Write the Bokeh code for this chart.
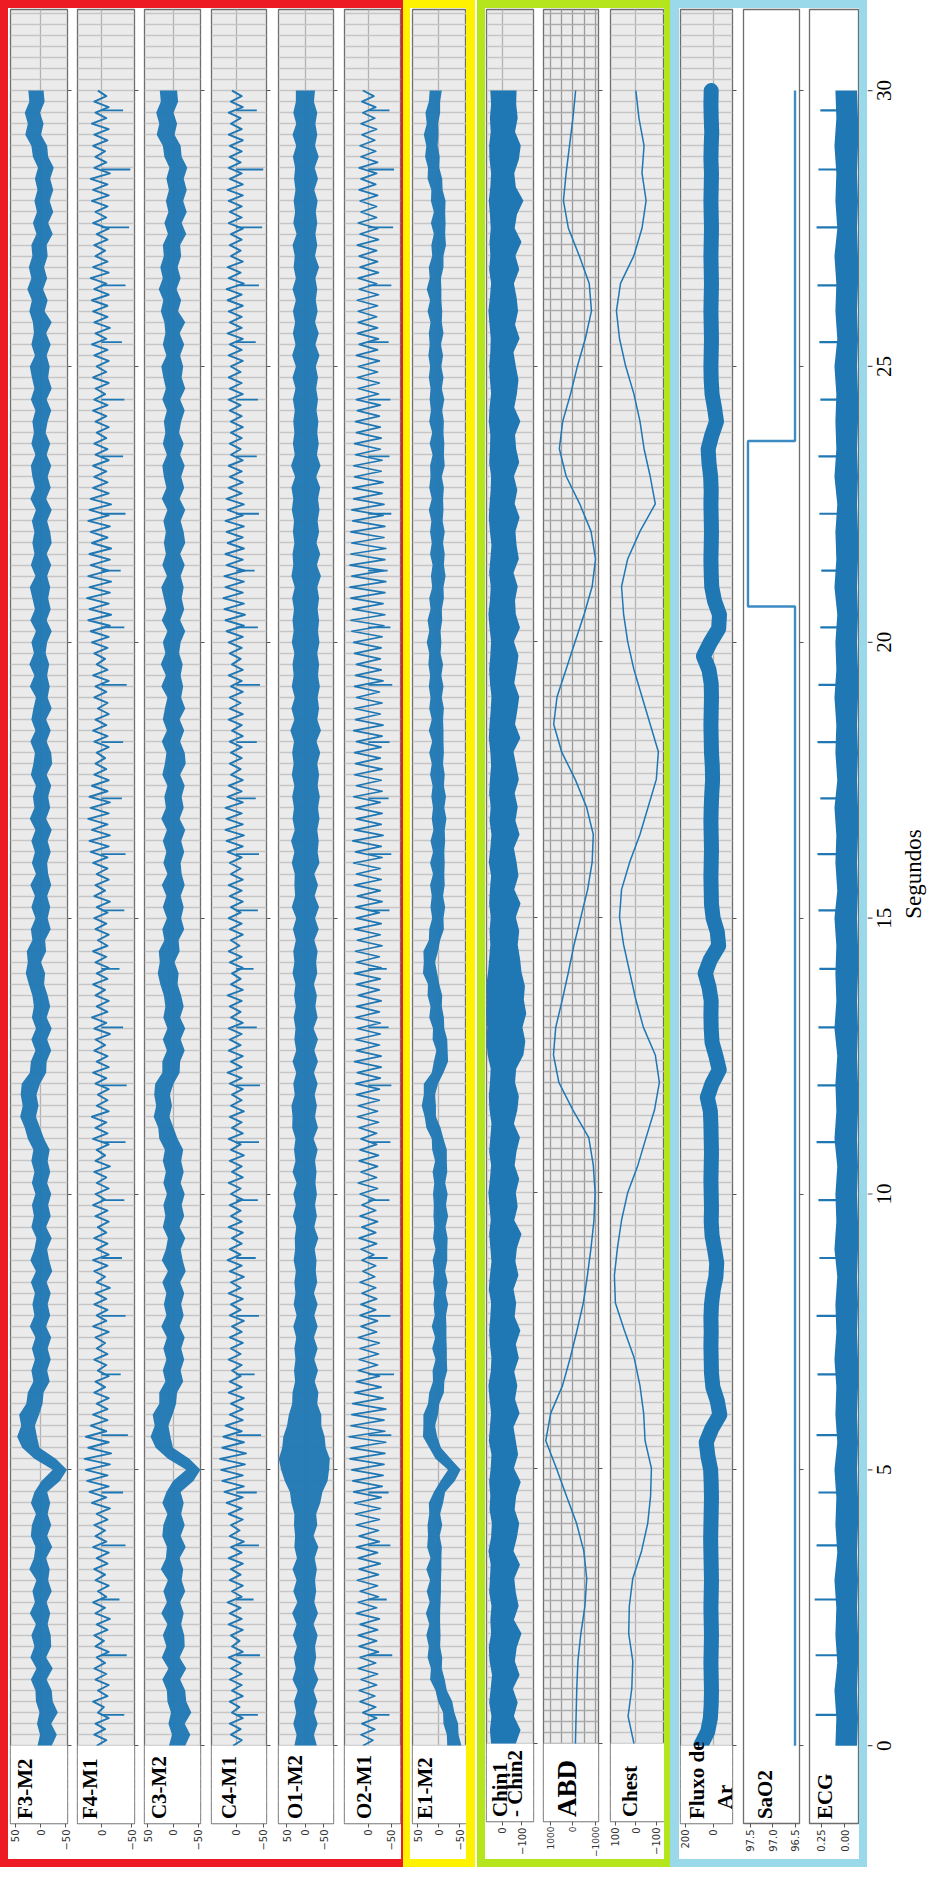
import math
import numpy as np
from bokeh.plotting import figure
from bokeh.layouts import row, column
from bokeh.models import (Range1d, FixedTicker, SingleIntervalTicker, BoxAnnotation,
                          Label, Spacer)
from bokeh.core.properties import value
from bokeh.embed import file_html
from bokeh.resources import INLINE

# ---------------------------------------------------------------- data
time_ticks = [0, 5, 10, 15, 20, 25, 30]
time_labels = ["0", "5", "10", "15", "20", "25", "30"]

# dense EEG channels: upper / lower edge of the trace band, read every 0.2 s
band_dt = 0.2
F3_hi = [6, 1, 7, 2, 9, 10, 19, 8, 20, 12,
         18, 9, 21, 11, 16, 8, 22, 13, 10, 19,
         17, 9, 19, 12, -2, -24, 12, 36, 46, 38,
         42, 28, 25, 14, 18, 11, 17, 10, 21, 12,
         16, 11, 19, 9, 20, 12, 8, 18, 13, 17,
         10, 17, 12, 18, 14, 25, 31, 40, 35, 39,
         37, 21, 19, 10, 18, 9, 17, 13, 16, 23,
         29, 25, 27, 16, 19, 10, 18, 11, 20, 9,
         17, 11, 18, 10, 21, 12, 15, 9, 19, 14,
         11, 20, 10, 18, 14, 9, 21, 12, 22, 13,
         18, 9, 20, 11, 16, 21, 10, 19, 12, 16,
         12, 17, 9, 20, 11, 16, 19, 10, 18, 13,
         16, 10, 19, 12, 17, 21, 11, 18, 13, 15,
         22, 17, 26, 18, 23, 16, 18, 8, 15, 7,
         12, 6, 11, 5, 15, 18, 30, 25, 31, 22,
         24]
F3_lo = [-22, -32, -21, -34, -24, -22, -12, -24, -11, -21,
         -20, -14, -19, -12, -22, -15, -18, -11, -23, -13,
         -21, -14, -19, -13, -38, -52, -30, 2, 7, 11,
         3, -4, -6, -18, -13, -20, -14, -21, -11, -19,
         -14, -20, -12, -23, -17, -13, -22, -11, -20, -15,
         -21, -13, -19, -14, -18, -7, 1, 9, 4, 8,
         1, -11, -12, -21, -13, -22, -12, -19, -14, -7,
         -9, -1, -11, -9, -20, -14, -19, -13, -21, -15,
         -13, -20, -14, -22, -11, -19, -15, -21, -12, -23,
         -21, -12, -20, -11, -22, -14, -18, -13, -17, -10,
         -13, -22, -12, -20, -15, -19, -13, -21, -12, -22,
         -19, -13, -22, -11, -20, -14, -21, -12, -19, -10,
         -14, -21, -12, -22, -15, -18, -12, -20, -11, -22,
         -8, -14, -5, -13, -7, -14, -12, -24, -15, -25,
         -18, -25, -19, -26, -15, -13, -1, -6, 1, -8,
         -6]
C3_hi = [8, 2, 9, 4, 11, 12, 21, 9, 22, 13,
         20, 11, 23, 12, 19, 10, 24, 14, 12, 21,
         19, 11, 21, 13, 0, -26, 10, 34, 44, 36,
         40, 27, 27, 15, 20, 13, 19, 12, 23, 13,
         18, 13, 21, 10, 22, 14, 10, 20, 15, 19,
         12, 19, 14, 20, 16, 27, 29, 38, 33, 37,
         35, 21, 21, 12, 20, 11, 19, 15, 18, 25,
         30, 26, 28, 17, 21, 12, 20, 13, 22, 11,
         19, 13, 20, 12, 23, 14, 17, 11, 21, 16,
         13, 22, 12, 20, 16, 11, 23, 14, 24, 15,
         20, 11, 22, 13, 18, 23, 12, 21, 14, 18,
         14, 19, 11, 22, 13, 18, 21, 12, 20, 15,
         18, 12, 21, 14, 19, 23, 13, 20, 15, 17,
         24, 19, 28, 20, 25, 18, 20, 10, 17, 9,
         14, 8, 13, 7, 17, 20, 32, 27, 33, 24,
         26]
C3_lo = [-24, -34, -23, -36, -26, -24, -14, -26, -13, -23,
         -22, -16, -21, -14, -24, -17, -20, -13, -25, -15,
         -23, -16, -21, -15, -40, -54, -32, 0, 5, 9,
         1, -6, -8, -20, -15, -22, -16, -23, -13, -21,
         -16, -22, -14, -25, -19, -15, -24, -13, -22, -17,
         -23, -15, -21, -16, -20, -9, -1, 7, 2, 6,
         -1, -13, -14, -23, -15, -24, -14, -21, -16, -9,
         -11, -3, -13, -11, -22, -16, -21, -15, -23, -17,
         -15, -22, -16, -24, -13, -21, -17, -23, -14, -25,
         -23, -14, -22, -13, -24, -16, -20, -15, -19, -12,
         -15, -24, -14, -22, -17, -21, -15, -23, -14, -24,
         -21, -15, -24, -13, -22, -16, -23, -14, -21, -12,
         -16, -23, -14, -24, -17, -20, -14, -22, -13, -24,
         -10, -16, -7, -15, -9, -16, -14, -26, -17, -27,
         -20, -27, -21, -28, -17, -15, -3, -8, -1, -10,
         -8]
O1_hi = [30, 24, 33, 25, 31, 21, 35, 26, 32, 23,
         34, 24, 36, 22, 33, 24, 35, 23, 30, 28,
         31, 30, 38, 42, 56, 66, 72, 63, 60, 50,
         45, 36, 35, 28, 31, 27, 30, 25, 33, 24,
         32, 27, 30, 26, 32, 28, 29, 25, 34, 26,
         33, 24, 35, 27, 31, 27, 36, 35, 38, 29,
         33, 25, 35, 25, 30, 27, 32, 26, 31, 27,
         35, 30, 33, 26, 34, 25, 37, 28, 30, 29,
         37, 30, 39, 29, 35, 31, 36, 30, 37, 32,
         36, 31, 41, 30, 38, 29, 37, 32, 35, 30,
         37, 32, 35, 31, 36, 29, 38, 33, 35, 30,
         34, 31, 37, 33, 38, 28, 39, 29, 34, 30,
         33, 29, 34, 27, 35, 26, 36, 27, 34, 28,
         34, 26, 35, 26, 32, 29, 35, 24, 33, 28,
         32, 27, 31, 28, 34, 25, 35, 25, 33, 26,
         26]
O1_lo = [-31, -23, -33, -23, -32, -22, -35, -23, -29, -26,
         -33, -22, -34, -24, -29, -26, -31, -25, -35, -22,
         -32, -29, -40, -46, -60, -64, -66, -55, -52, -43,
         -43, -32, -35, -25, -34, -24, -33, -23, -33, -24,
         -33, -23, -32, -28, -30, -25, -35, -24, -31, -26,
         -31, -27, -30, -26, -33, -22, -34, -26, -31, -25,
         -33, -23, -34, -24, -34, -22, -33, -27, -31, -23,
         -32, -29, -33, -24, -36, -26, -37, -25, -34, -24,
         -38, -33, -36, -32, -38, -34, -39, -33, -37, -32,
         -40, -30, -42, -32, -37, -33, -39, -34, -37, -32,
         -38, -34, -37, -33, -37, -32, -42, -31, -40, -30,
         -37, -33, -38, -34, -40, -29, -41, -31, -36, -32,
         -35, -30, -34, -29, -34, -28, -38, -27, -36, -26,
         -33, -28, -32, -27, -37, -26, -32, -27, -32, -28,
         -33, -24, -34, -25, -36, -26, -32, -27, -32, -23,
         -26]
E1_hi = [-20, -19, -11, -10, 2, 8, 21, 19, 27, 24,
         30, 23, 31, 22, 29, 21, 30, 20, 28, 26,
         27, 23, 24, 12, -4, -22, 8, 23, 38, 37,
         37, 26, 23, 14, 15, 8, 16, 9, 17, 10,
         13, 10, 14, 11, 15, 8, 14, 11, 13, 12,
         14, 11, 15, 9, 16, 17, 30, 34, 41, 36,
         36, 17, 12, 6, 15, 14, 23, 20, 27, 26,
         38, 36, 37, 24, 23, 16, 20, 17, 21, 14,
         21, 14, 20, 13, 17, 14, 18, 15, 21, 17,
         23, 16, 24, 17, 23, 20, 24, 21, 25, 23,
         29, 23, 27, 20, 23, 16, 19, 15, 21, 17,
         21, 18, 24, 17, 23, 20, 21, 15, 22, 16,
         23, 19, 22, 20, 24, 21, 25, 22, 24, 20,
         27, 21, 29, 22, 24, 16, 18, 12, 19, 12,
         19, 18, 27, 26, 33, 30, 36, 29, 32, 24,
         22]
E1_lo = [-54, -47, -46, -37, -32, -19, -14, -7, -8, -3,
         -4, -3, -3, -4, -5, -5, -6, -6, -7, -2,
         -8, -3, -10, -15, -38, -52, -28, -5, 4, 9,
         2, -1, -12, -13, -20, -19, -19, -18, -18, -17,
         -22, -16, -21, -15, -20, -20, -21, -16, -22, -17,
         -21, -15, -20, -19, -19, -11, -4, 7, 7, 9,
         2, -11, -22, -21, -20, -13, -12, -7, -8, -1,
         4, 9, 2, -3, -12, -11, -15, -10, -14, -13,
         -14, -13, -15, -14, -18, -13, -17, -12, -14, -10,
         -12, -11, -11, -10, -12, -7, -11, -6, -10, -4,
         -6, -4, -8, -7, -12, -11, -16, -12, -14, -10,
         -14, -9, -11, -10, -12, -7, -14, -12, -13, -11,
         -12, -8, -13, -7, -11, -6, -10, -5, -11, -7,
         -8, -6, -6, -5, -11, -11, -17, -15, -16, -15,
         -16, -9, -8, -1, -2, 3, 1, 2, -3, -3,
         -7]

# sparser EEG channels: trace read every 0.1 s
eeg_dt = 0.1
F4_M1 = [8, -8, 12, -6, 10, -12, 6, -4, 14, -10,
         6, -12, 10, -8, 12, -6, 8, -12, 10, -4,
         12, -10, 8, -14, 10, -6, 14, -8, 6, -12,
         10, -6, 12, -10, 8, -12, 14, -8, 10, -6,
         12, -10, 8, -14, 16, -8, 20, -12, 24, -10,
         26, -14, 28, -16, 22, -12, 26, -8, 18, -10,
         14, -10, 8, -12, 12, -6, 10, -12, 6, -8,
         12, -10, 8, -6, 10, -12, 14, -8, 8, -10,
         12, -8, 10, -14, 8, -6, 12, -10, 14, -12,
         8, -10, 12, -8, 6, -12, 10, -10, 14, -6,
         10, -12, 8, -8, 12, -14, 10, -6, 8, -12,
         14, -10, 10, -8, 16, -12, 8, -10, 6, -12,
         10, -8, 14, -12, 8, -10, 12, -6, 10, -14,
         12, -8, 16, -10, 8, -12, 10, -6, 14, -10,
         8, -12, 10, -8, 14, -10, 6, -12, 10, -8,
         12, -10, 8, -14, 12, -6, 10, -12, 8, -10,
         14, -10, 18, -12, 20, -14, 16, -10, 22, -12,
         18, -14, 20, -10, 16, -12, 12, -8, 10, -6,
         8, -12, 12, -10, 14, -8, 10, -12, 6, -10,
         12, -8, 10, -12, 14, -10, 8, -6, 12, -10,
         16, -12, 18, -14, 22, -16, 20, -12, 24, -14,
         20, -16, 22, -12, 18, -14, 20, -16, 16, -10,
         18, -14, 22, -12, 20, -16, 18, -12, 14, -10,
         12, -8, 14, -12, 10, -10, 12, -8, 8, -12,
         10, -8, 14, -10, 12, -6, 10, -12, 14, -8,
         8, -12, 12, -10, 16, -8, 10, -14, 12, -10,
         14, -10, 16, -12, 12, -8, 18, -12, 14, -10,
         10, -6, 12, -10, 8, -12, 14, -8, 10, -10,
         16, -12, 14, -10, 18, -14, 12, -8, 10, -6,
         14, -10, 12, -12, 16, -8, 10, -12, 12, -8,
         6]
C4_M1 = [6, -10, 10, -8, 12, -12, 8, -6, 12, -12,
         8, -10, 12, -10, 10, -8, 14, -12, 8, -6,
         10, -12, 14, -10, 12, -8, 16, -10, 8, -12,
         12, -8, 10, -12, 14, -10, 10, -14, 12, -6,
         10, -12, 14, -10, 18, -12, 22, -14, 26, -12,
         28, -16, 30, -18, 26, -14, 24, -10, 20, -12,
         12, -12, 10, -14, 14, -10, 12, -8, 8, -10,
         14, -8, 10, -12, 12, -10, 8, -14, 12, -8,
         10, -12, 14, -8, 10, -14, 12, -10, 16, -8,
         12, -10, 8, -12, 14, -10, 10, -8, 12, -12,
         10, -8, 14, -12, 8, -10, 12, -14, 10, -8,
         14, -12, 8, -10, 12, -14, 10, -10, 8, -12,
         12, -10, 16, -10, 10, -12, 14, -8, 12, -10,
         14, -12, 10, -8, 12, -10, 16, -12, 10, -8,
         8, -12, 12, -10, 14, -6, 10, -12, 12, -10,
         14, -8, 10, -12, 12, -10, 14, -12, 10, -8,
         12, -10, 16, -12, 18, -14, 20, -12, 18, -10,
         20, -12, 16, -10, 14, -12, 10, -8, 12, -10,
         10, -10, 12, -12, 8, -10, 14, -12, 12, -8,
         12, -12, 10, -10, 14, -12, 8, -8, 12, -10,
         14, -12, 18, -14, 20, -16, 22, -14, 24, -12,
         20, -14, 22, -16, 18, -12, 20, -14, 16, -12,
         18, -14, 20, -12, 16, -14, 18, -10, 14, -12,
         12, -10, 14, -12, 10, -8, 12, -10, 10, -12,
         10, -10, 12, -8, 14, -12, 12, -10, 14, -8,
         10, -12, 14, -10, 12, -12, 16, -10, 12, -10,
         14, -12, 16, -10, 18, -14, 14, -8, 16, -12,
         10, -8, 12, -10, 10, -12, 14, -10, 12, -10,
         14, -12, 16, -12, 12, -10, 14, -8, 12, -10,
         12, -12, 14, -10, 10, -8, 14, -12, 10, -10,
         8]
O2_M1 = [12, -10, 16, -14, 14, -18, 12, -16, 18, -14,
         20, -18, 16, -20, 22, -16, 18, -22, 20, -18,
         22, -20, 18, -24, 26, -18, 22, -22, 18, -20,
         24, -22, 20, -26, 22, -20, 26, -24, 20, -22,
         26, -24, 28, -26, 30, -28, 32, -30, 34, -32,
         36, -34, 40, -36, 38, -38, 42, -36, 38, -34,
         36, -38, 34, -32, 30, -28, 26, -24, 22, -20,
         20, -22, 18, -24, 22, -18, 16, -20, 18, -16,
         16, -18, 14, -16, 18, -14, 12, -16, 14, -12,
         16, -18, 20, -16, 14, -20, 18, -16, 14, -14,
         18, -20, 22, -18, 16, -20, 20, -22, 18, -18,
         16, -18, 20, -22, 24, -20, 22, -24, 26, -24,
         28, -26, 24, -28, 30, -28, 26, -24, 28, -26,
         24, -26, 28, -24, 26, -28, 22, -24, 26, -26,
         30, -28, 26, -24, 28, -30, 24, -26, 30, -28,
         26, -24, 28, -30, 24, -26, 30, -28, 26, -26,
         32, -30, 28, -28, 34, -32, 30, -28, 26, -30,
         28, -26, 32, -30, 26, -28, 30, -30, 28, -26,
         30, -28, 26, -30, 32, -32, 28, -26, 30, -30,
         26, -24, 30, -32, 28, -28, 26, -26, 30, -28,
         32, -30, 36, -34, 38, -36, 34, -32, 38, -36,
         40, -38, 36, -34, 40, -36, 38, -38, 36, -34,
         38, -36, 34, -32, 36, -34, 32, -30, 34, -32,
         30, -28, 32, -30, 28, -26, 30, -28, 26, -26,
         28, -24, 24, -26, 26, -22, 22, -24, 24, -20,
         22, -24, 26, -20, 20, -22, 24, -20, 22, -18,
         22, -20, 24, -22, 20, -18, 22, -22, 18, -20,
         20, -18, 24, -22, 18, -20, 22, -18, 16, -18,
         18, -20, 20, -16, 16, -18, 20, -20, 16, -16,
         18, -14, 14, -18, 16, -14, 12, -16, 14, -12,
         12]

# cardiac beats (R peaks) seen in ECG and as artefact in F4, C4, O2
ecg_r_times = [0.56, 1.64, 2.65, 3.63, 4.59, 5.63, 6.73, 7.79, 8.84, 9.89,
               10.94, 11.97, 13.02, 14.08, 15.14, 16.16, 17.17, 18.19, 19.23, 20.27,
               21.30, 22.33, 23.37, 24.40, 25.44, 26.47, 27.52, 28.57, 29.64]
ecg_r_peak = [0.31, 0.31, 0.32, 0.30, 0.28, 0.30, 0.29, 0.30, 0.27, 0.28,
              0.30, 0.29, 0.28, 0.27, 0.28, 0.29, 0.26, 0.29, 0.28, 0.26,
              0.25, 0.27, 0.28, 0.26, 0.27, 0.29, 0.30, 0.28, 0.26]
f4_spike = [-38, -42, -30, -40, -36, -44, -32, -40, -34, -38, -40, -42, -36, -30, -38,
            -40, -34, -36, -42, -38, -32, -40, -36, -38, -34, -40, -46, -48, -36]
c4_spike = [-40, -44, -32, -42, -38, -46, -34, -42, -36, -40, -42, -44, -38, -32, -40,
            -42, -36, -38, -44, -40, -34, -42, -38, -40, -36, -42, -48, -50, -38]
o2_spike = [-46, -52, -40, -48, -44, -50, -56, -48, -42, -46, -48, -50, -44, -40, -46,
            -50, -44, -46, -52, -48, -42, -50, -46, -48, -44, -50, -54, -56, -46]

chin_dt = 0.25
chin_hi = [60, 66, 58, 70, 62, 55, 68, 72, 60, 64,
           58, 70, 66, 62, 74, 60, 56, 68, 64, 70,
           62, 58, 72, 66, 60, 68, 74, 62, 58, 66,
           70, 64, 60, 72, 66, 58, 64, 70, 62, 68,
           74, 66, 60, 70, 64, 58, 68, 72, 66, 62,
           78, 84, 80, 88, 82, 86, 76, 70, 64, 68,
           62, 70, 66, 60, 72, 64, 58, 68, 62, 70,
           66, 60, 64, 72, 68, 62, 58, 66, 70, 64,
           60, 68, 74, 66, 62, 70, 64, 58, 66, 72,
           68, 62, 60, 70, 66, 64, 72, 68, 60, 66,
           70, 64, 62, 68, 74, 66, 60, 70, 64, 68,
           62, 66, 72, 64, 60, 68, 70, 62, 66, 60,
           64]
chin_lo = [-70, -95, -60, -80, -55, -90, -65, -75, -100, -60,
           -85, -70, -62, -92, -58, -76, -88, -64, -72, -96,
           -60, -82, -70, -58, -90, -66, -78, -62, -86, -70,
           -94, -64, -72, -58, -84, -68, -76, -100, -62, -80,
           -70, -88, -64, -74, -92, -60, -78, -86, -66, -72,
           -110, -120, -105, -125, -112, -118, -100, -92, -80, -88,
           -70, -95, -62, -84, -74, -60, -90, -68, -80, -64,
           -86, -72, -58, -94, -66, -78, -88, -62, -74, -84,
           -60, -92, -70, -66, -80, -58, -86, -74, -68, -90,
           -64, -78, -60, -88, -72, -66, -94, -62, -76, -84,
           -70, -58, -90, -66, -82, -74, -60, -88, -68, -100,
           -64, -76, -110, -70, -62, -86, -96, -66, -80, -72,
           -74]

resp_dt = 0.5
ABD = [-110, -140, -170, -220, -350, -530, -610, -480, -160, 290,
       730, 1200, 980, 460, 120, -180, -460, -640, -800, -930,
       -980, -900, -700, 0, 620, 860, 760, 470, 200, -50,
       -350, -650, -850, -900, -600, -100, 500, 850, 700, 300,
       -100, -500, -850, -1000, -800, -300, 300, 600, 450, 100,
       -200, -550, -820, -720, -280, 200, 420, 300, 150, 0,
       -120]
Chest = [9, 38, 20, 15, 35, 32, 15, -28, -58, -72,
         -76, -45, -38, -20, 8, 56, 100, 105, 90, 70,
         40, -10, -50, -91, -115, -95, -37, 0, 30, 60,
         80, 70, 30, -20, -60, -100, -110, -70, -30, 10,
         40, 60, 70, 40, -20, -95, -70, -40, -20, 10,
         50, 80, 95, 75, 10, -30, -50, -30, -40, -15,
         0]

flow_dt = 0.25
Fluxo = [90, 40, 20, 14, 12, 14, 16, 14, 12, 14,
         16, 14, 12, 14, 16, 18, 16, 14, 12, 14,
         18, 38, 50, 10, -48, -30, 2, 12, 14, 16,
         14, 16, 12, 0, -20, -26, -10, 8, 14, 12,
         14, 16, 14, 12, 14, 16, 20, 42, 8, -44,
         -20, 8, 14, 16, 14, 30, 58, 20, -40, -30,
         0, 12, 14, 16, 14, 12, 14, 16, 14, 10,
         4, 6, 12, 14, 16, 14, 12, 14, 30, 70,
         20, -40, -46, -10, 10, 14, 16, 14, 12, 14,
         16, 14, 18, 30, 36, 10, -24, -10, 8, 14,
         16, 14, 12, 14, 16, 14, 12, 14, 16, 14,
         12, 14, 16, 14, 12, 16, 14, 10, 14, 16,
         14]

sao2_t = [0.0, 20.65, 20.65, 23.65, 23.65, 30.0]
sao2_v = [96.5, 96.5, 97.55, 97.55, 96.5, 96.5]

ecg_dt = 0.5
ecg_hi = [0.10, 0.09, 0.11, 0.08, 0.10, 0.09, 0.11, 0.08, 0.10, 0.09,
          0.11, 0.08, 0.10, 0.09, 0.11, 0.09, 0.10, 0.08, 0.11, 0.09,
          0.10, 0.08, 0.11, 0.09, 0.10, 0.08, 0.11, 0.09, 0.10, 0.09,
          0.11, 0.08, 0.10, 0.09, 0.11, 0.08, 0.10, 0.09, 0.11, 0.09,
          0.10, 0.08, 0.11, 0.09, 0.10, 0.08, 0.11, 0.09, 0.10, 0.09,
          0.11, 0.08, 0.10, 0.09, 0.11, 0.08, 0.10, 0.09, 0.11, 0.09,
          0.10]
ecg_lo = [-0.13, -0.14, -0.13, -0.14, -0.14, -0.13, -0.14, -0.13, -0.14, -0.14,
          -0.13, -0.14, -0.13, -0.14, -0.14, -0.13, -0.14, -0.13, -0.14, -0.14,
          -0.13, -0.14, -0.13, -0.14, -0.14, -0.13, -0.14, -0.13, -0.14, -0.14,
          -0.13, -0.14, -0.13, -0.14, -0.14, -0.13, -0.14, -0.13, -0.14, -0.14,
          -0.13, -0.14, -0.13, -0.14, -0.14, -0.13, -0.14, -0.13, -0.14, -0.14,
          -0.13, -0.14, -0.13, -0.14, -0.14, -0.13, -0.14, -0.13, -0.14, -0.14,
          -0.13]

# ---------------------------------------------------------------- style
BLUE = "#1f77b4"
RED, YELLOW, GREEN, CYAN = "#ed1c24", "#fff200", "#b5e61d", "#99d9ea"
H = 1851
yr = Range1d(-1.41, 31.47)


def tgrid(vals, dt):
    return np.arange(len(vals)) * dt


def panel(xr, fw, mbl, mbr, xticks, xlabels, right_axis=True, gray=True,
          grid_x=(0,), dark=False, tick_font="10px", standoff=2):
    p = figure(width=mbl + fw + mbr, height=H, x_range=Range1d(xr[0], xr[1]), y_range=yr,
               toolbar_location=None, output_backend="svg",
               x_axis_location="below", y_axis_location=("right" if right_axis else None),
               min_border_left=mbl, min_border_right=mbr,
               min_border_top=1, min_border_bottom=36)
    p.background_fill_color = "#ebebeb" if gray else "white"
    p.border_fill_color = "white"
    p.outline_line_color = "#6e6e6e"
    p.outline_line_width = 1.3
    xa = p.xaxis[0]
    xa.ticker = FixedTicker(ticks=list(xticks))
    xa.major_label_overrides = {t: l for t, l in zip(xticks, xlabels)}
    xa.major_label_orientation = math.pi / 2
    xa.major_label_text_font = "DejaVu Sans"
    xa.major_label_text_font_size = tick_font
    xa.major_label_text_color = "#333333"
    xa.major_label_standoff = standoff
    xa.major_tick_out = 4
    xa.major_tick_in = 0
    xa.major_tick_line_color = "#555555"
    xa.minor_tick_line_color = None
    xa.axis_line_color = None
    if right_axis:
        # only the tick marks of the time axis are shown on each strip
        ya = p.yaxis[0]
        ya.ticker = FixedTicker(ticks=time_ticks)
        ya.major_label_text_color = None
        ya.major_label_text_font_size = "1px"
        ya.major_label_standoff = 0
        ya.major_tick_out = 4
        ya.major_tick_in = 0
        ya.major_tick_line_color = "#555555"
        ya.minor_tick_line_color = None
        ya.axis_line_color = None
    if gray:
        p.ygrid.ticker = SingleIntervalTicker(interval=0.2)
        p.ygrid.grid_line_color = "#acacac" if dark else "#c6c6c6"
        p.ygrid.grid_line_width = 1.4
        p.xgrid.ticker = FixedTicker(ticks=list(grid_x))
        p.xgrid.grid_line_color = "#9a9a9a" if dark else "#b2b2b2"
        p.xgrid.grid_line_width = 1.3
        p.add_layout(BoxAnnotation(top=0, fill_color="white", fill_alpha=1.0, line_color=None))
    else:
        p.xgrid.visible = False
        p.ygrid.visible = False
    return p


def label(p, xr, fw, text, off_px, size="21px", y=-1.33):
    x = xr[0] - off_px * (xr[0] - xr[1]) / fw
    p.add_layout(Label(x=x, y=y, text=text, angle=math.pi / 2, text_align="left",
                       text_baseline="top", text_font="Liberation Serif",
                       text_font_style="bold", text_font_size=size, text_color="black"))


def eeg_band(name, hi, lo, xr, fw, mbl, mbr, ticks, labs, off, right=True):
    p = panel(xr, fw, mbl, mbr, ticks, labs, right_axis=right)
    t = tgrid(hi, band_dt)
    p.harea(y=t, x1=lo, x2=hi, fill_color=BLUE, fill_alpha=0.95)
    label(p, xr, fw, name, off)
    return p


def eeg_line(name, data, xr, fw, mbl, mbr, ticks, labs, lw, off, spikes, right=True):
    p = panel(xr, fw, mbl, mbr, ticks, labs, right_axis=right)
    p.line(x=data, y=tgrid(data, eeg_dt), line_color=BLUE, line_width=lw, line_join="round")
    p.segment(x0=0, y0=ecg_r_times, x1=spikes, y1=ecg_r_times,
              line_color=BLUE, line_width=1.8)
    label(p, xr, fw, name, off)
    return p


t3 = [50, 0, -50]
l3 = ["50", "0", "\u221250"]
t2 = [0, -50]
l2 = ["0", "\u221250"]

pF3 = eeg_band("F3-M2", F3_hi, F3_lo, (59, -53), 57, 2, 9, t3, l3, 2)
pF4 = eeg_line("F4-M1", F4_M1, (40, -55), 57, 1, 7, t2, l2, 1.9, 0, f4_spike)
pC3 = eeg_band("C3-M2", C3_hi, C3_lo, (56, -54), 56, 3, 10, t3, l3, 2)
pC4 = eeg_line("C4-M1", C4_M1, (46, -56), 55, 1, 11, t2, l2, 1.9, 5, c4_spike)
pO1 = eeg_band("O1-M2", O1_hi, O1_lo, (73, -76), 55, 1, 10, t3, l3, 4)
pO2 = eeg_line("O2-M1", O2_M1, (52, -70), 56, 1, 1, t2, l2, 1.7, 7, o2_spike, right=False)
pE1 = eeg_band("E1-M2", E1_hi, E1_lo, (63, -66), 54, 2, 0, t3, l3, 0, right=False)

# Chin
xr = (84, -163)
pCh = panel(xr, 47, 1, 9, [100, 0, -100], ["100", "0", "\u2212100"])
tc = tgrid(chin_hi, chin_dt)
pCh.harea(y=tc, x1=chin_lo, x2=chin_hi, fill_color=BLUE, fill_alpha=1.0)
label(pCh, xr, 47, "Chin1", 1)
label(pCh, xr, 47, "- Chin2", 16)

# ABD
xr = (1300, -1130)
pAB = panel(xr, 55, 1, 11, [1000, 0, -1000], ["1000", "0", "\u22121000"],
            grid_x=(-1000, -500, 0, 500, 1000), dark=True, tick_font="9px", standoff=1)
pAB.line(x=ABD, y=tgrid(ABD, resp_dt), line_color=BLUE, line_width=1.5, line_join="round")
label(pAB, xr, 55, "ABD", 8, size="27px")

# Chest
xr = (124, -140)
pCs = panel(xr, 54, 1, 0, [100, 0, -100], ["100", "0", "\u2212100"], right_axis=False)
pCs.line(x=Chest, y=tgrid(Chest, resp_dt), line_color=BLUE, line_width=1.5, line_join="round")
label(pCs, xr, 54, "Chest", 7)

# Fluxo de Ar
xr = (236, -140)
pFl = panel(xr, 52, 1, 10, [200, 0], ["200", "0"])
pFl.line(x=Fluxo, y=tgrid(Fluxo, flow_dt), line_color=BLUE, line_width=15,
         line_join="round", line_cap="round")
label(pFl, xr, 52, "Fluxo de", 4)
label(pFl, xr, 52, "Ar", 32, y=-1.15)

# SaO2
xr = (97.65, 96.4)
pSa = panel(xr, 56, 1, 9, [97.5, 97.0, 96.5], ["97.5", "97.0", "96.5"], gray=False)
pSa.line(x=sao2_v, y=sao2_t, line_color="#3d8bc4", line_width=2.4)
label(pSa, xr, 56, "SaO2", 9)

# ECG
xr = (0.375, -0.156)
pEC = panel(xr, 50, 1, 0, [0.25, 0.0], ["0.25", "0.00"], right_axis=False, gray=False)
te = tgrid(ecg_hi, ecg_dt)
pEC.harea(y=te, x1=ecg_lo, x2=ecg_hi, fill_color=BLUE, fill_alpha=1.0)
pEC.segment(x0=0.0, y0=ecg_r_times, x1=ecg_r_peak, y1=ecg_r_times,
            line_color=BLUE, line_width=2.2)
label(pEC, xr, 50, "ECG", 3)

# shared time axis, right of the blue frame (x in pixels of this strip)
ax = figure(width=60, height=H + 16, x_range=Range1d(0, 60), y_range=yr,
            toolbar_location=None, output_backend="svg",
            x_axis_location=None, y_axis_location=None,
            min_border_left=0, min_border_right=0, min_border_top=9, min_border_bottom=44)
ax.outline_line_color = None
ax.background_fill_color = None
ax.grid.visible = False
ax.segment(x0=0, y0=time_ticks, x1=5, y1=time_ticks, line_color="#555555", line_width=1.2)
ax.text(x=16, y=time_ticks, text=time_labels, angle=math.pi / 2,
        text_align="center", text_baseline="middle",
        text_font=value("Liberation Serif"), text_font_size="21px", text_color="black")
ax.text(x=[46], y=[15.8], text=["Segundos"], angle=math.pi / 2,
        text_align="center", text_baseline="middle",
        text_font=value("Liberation Serif"), text_font_size="23px", text_color="black")


def bar(w, h, color):
    return Spacer(width=w, height=h, styles={"background-color": color})


def group(figs, color, lw, rw):
    W = lw + sum(f.width for f in figs) + rw
    mid = row([bar(lw, H, color)] + figs + [bar(rw, H, color)])
    return column([bar(W, 8, color), mid, bar(W, 8, color)])


red = group([pF3, pF4, pC3, pC4, pO1, pO2], RED, 8, 2)
yellow = group([pE1], YELLOW, 7, 9)
green = group([pCh, pAB, pCs], GREEN, 8, 6)
blue = group([pFl, pSa, pEC], CYAN, 9, 8)
gap = Spacer(width=2, height=H + 16)

layout = row([red, yellow, gap, green, blue, ax])
open("out.html", "w").write(file_html(layout, INLINE, title="polissonografia"))
